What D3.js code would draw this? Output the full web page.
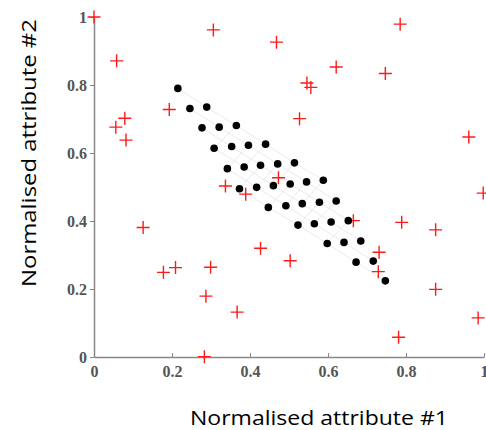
<!DOCTYPE html>
<html>
<head>
<meta charset="utf-8">
<script src="https://cdn.jsdelivr.net/npm/d3@7"></script>
<style>
  body { margin: 0; background: #fff; }
</style>
</head>
<body>
<div id="chart"></div>
<script>
// red "+" points (attribute #1, attribute #2)
const crossX = [0.000, 0.306, 0.058, 0.193, 0.079, 0.056, 0.082, 0.337, 0.389, 0.468,
                0.785, 0.621, 0.546, 0.556, 0.747, 0.527, 0.961, 0.473, 0.998, 0.126,
                0.178, 0.209, 0.299, 0.287, 0.367, 0.283, 0.665, 0.789, 0.876, 0.427,
                0.503, 0.731, 0.729, 0.876, 0.985, 0.781];
const crossY = [1.000, 0.962, 0.871, 0.728, 0.702, 0.676, 0.638, 0.503, 0.479, 0.926,
                0.979, 0.853, 0.806, 0.793, 0.834, 0.701, 0.647, 0.527, 0.482, 0.381,
                0.249, 0.263, 0.264, 0.179, 0.132, 0.001, 0.401, 0.396, 0.374, 0.320,
                0.283, 0.308, 0.251, 0.199, 0.115, 0.058];

// black dots
const dotX = [0.215,
              0.246, 0.289,
              0.277, 0.321, 0.365,
              0.308, 0.353, 0.396, 0.440,
              0.342, 0.385, 0.427, 0.471, 0.514,
              0.373, 0.417, 0.460, 0.503, 0.545, 0.588,
              0.447, 0.492, 0.534, 0.578, 0.621,
              0.523, 0.565, 0.608, 0.652,
              0.598, 0.641, 0.684,
              0.672, 0.716,
              0.747];
const dotY = [0.790,
              0.731, 0.735,
              0.674, 0.676, 0.681,
              0.614, 0.619, 0.623, 0.626,
              0.554, 0.559, 0.564, 0.568, 0.571,
              0.495, 0.499, 0.504, 0.509, 0.515, 0.520,
              0.440, 0.445, 0.451, 0.455, 0.459,
              0.388, 0.392, 0.397, 0.401,
              0.334, 0.337, 0.341,
              0.279, 0.282,
              0.224];

const ticks = [0, 0.2, 0.4, 0.6, 0.8, 1];
const tickLabels = ["0", "0.2", "0.4", "0.6", "0.8", "1"];

const width = 486, height = 430;
const margin = { top: 17, right: 2, bottom: 73, left: 94 };

const x = d3.scaleLinear().domain([0, 1]).range([margin.left, width - margin.right]);
const y = d3.scaleLinear().domain([0, 1]).range([height - margin.bottom, margin.top]);

const svg = d3.select("#chart").append("svg")
    .attr("width", width)
    .attr("height", height);

// faint mesh between neighbouring dots
const dots = dotX.map((d, i) => [x(d), y(dotY[i])]);
const links = [];
dots.forEach((a, i) => {
    dots.forEach((b, j) => {
        if (j <= i) return;
        const dx = b[0] - a[0], dy = b[1] - a[1];
        const len = Math.hypot(dx, dy);
        if (len > 30 && len < 39 && Math.abs(dy) > 10) links.push([a, b]);
    });
});
svg.append("g")
    .selectAll("line")
    .data(links)
    .enter().append("line")
    .attr("x1", d => d[0][0]).attr("y1", d => d[0][1])
    .attr("x2", d => d[1][0]).attr("y2", d => d[1][1])
    .attr("stroke", "#e4e4e4")
    .attr("stroke-width", 0.8);

// axes
const xAxis = d3.axisBottom(x).tickValues(ticks)
    .tickFormat((d, i) => tickLabels[i]).tickSizeInner(-4).tickSizeOuter(0).tickPadding(9);
const yAxis = d3.axisLeft(y).tickValues(ticks)
    .tickFormat((d, i) => tickLabels[i]).tickSizeInner(4).tickSizeOuter(0).tickPadding(3);

const gx = svg.append("g")
    .attr("transform", `translate(0,${height - margin.bottom})`)
    .call(xAxis);
const gy = svg.append("g")
    .attr("transform", `translate(${margin.left},0)`)
    .call(yAxis);

[gx, gy].forEach(g => {
    g.select(".domain").attr("stroke", "#888").attr("stroke-width", 1.5);
    g.selectAll(".tick line").attr("stroke", "#888");
    g.selectAll(".tick text")
        .attr("fill", "#555")
        .style("font-family", "'Liberation Serif', 'Times New Roman', serif")
        .style("font-size", "16px")
        .style("font-weight", "bold");
});
gx.selectAll(".tick text").attr("dy", "0.71em");
gy.selectAll(".tick text").attr("dy", "0.35em");

// red crosses
const arm = 6.5;
svg.append("g")
    .selectAll("path")
    .data(crossX.map((d, i) => [d, crossY[i]]))
    .enter().append("path")
    .attr("d", d => {
        const cx = x(d[0]), cy = y(d[1]);
        return `M${cx - arm},${cy}H${cx + arm}M${cx},${cy - arm}V${cy + arm}`;
    })
    .attr("stroke", "#ff1a1a")
    .attr("stroke-width", 1.4)
    .attr("fill", "none");

// black dots
svg.append("g")
    .selectAll("circle")
    .data(dots)
    .enter().append("circle")
    .attr("cx", d => d[0])
    .attr("cy", d => d[1])
    .attr("r", 3.8)
    .attr("fill", "#000");

// axis titles
const titleFont = "'Open Sans', Lato, sans-serif";
svg.append("text")
    .attr("x", 319)
    .attr("y", 425)
    .attr("text-anchor", "middle")
    .style("font-family", titleFont)
    .style("font-size", "20px")
    .attr("textLength", 258)
    .attr("lengthAdjust", "spacingAndGlyphs")
    .text("Normalised attribute #1");

svg.append("text")
    .attr("transform", "translate(36,153) rotate(-90)")
    .attr("text-anchor", "middle")
    .style("font-family", titleFont)
    .style("font-size", "20px")
    .attr("textLength", 268)
    .attr("lengthAdjust", "spacingAndGlyphs")
    .text("Normalised attribute #2");
</script>
</body>
</html>
